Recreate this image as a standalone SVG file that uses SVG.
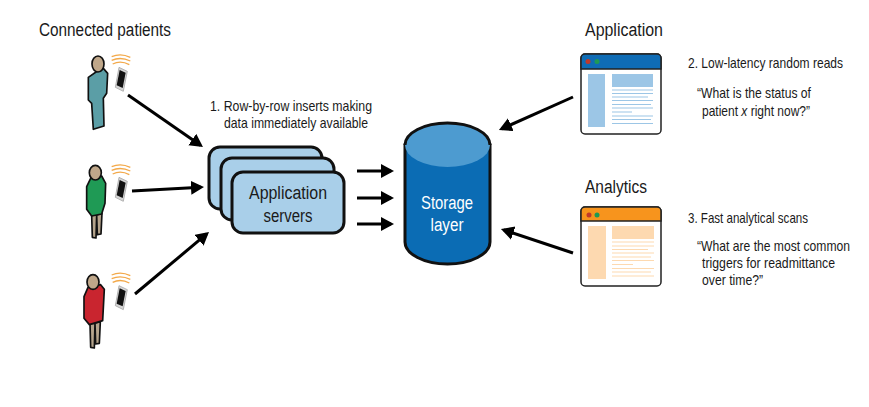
<svg xmlns="http://www.w3.org/2000/svg" width="869" height="407" viewBox="0 0 869 407">
<style>
text{font-family:"Liberation Sans",Arial,sans-serif;fill:#1a1a1a;stroke:none}
.h{font-size:19px}.s{font-size:14.500px}.m{font-size:19px;text-anchor:middle}
.conn{stroke:#000;stroke-width:3;fill:none;marker-end:url(#ah)}
.srv{fill:#a9cfe9;stroke:#111;stroke-width:3}
.ol{stroke:#111;stroke-width:5;stroke-linejoin:round}
.wave{fill:none;stroke:#f3a94a;stroke-width:4}
.frame{fill:#fff;stroke:#222;stroke-width:1.5}
.ln{stroke-width:1.2}
</style>
<defs>
<marker id="ah" markerUnits="userSpaceOnUse" markerWidth="16" markerHeight="16" refX="10" refY="7" orient="auto"><path d="M0 0L13 7L0 14Z" fill="#000"/></marker>
<g id="phone">
<path d="M177 82L202 94L190 154L166 142Z" fill="#d5d5d5" stroke="#999" stroke-width="2"/>
<path d="M179 90L197 98L188 144L170 136Z" fill="#111"/>
<path class="wave" d="M155 50Q182 38 211 52M155 61Q182 49 211 63M158 72Q182 60 208 74"/>
</g>
</defs>
<text class="h" transform="translate(39 36) scale(.8 1)" textLength="165" lengthAdjust="spacingAndGlyphs">Connected patients</text>
<g id="connectors">
<path class="conn" d="M128 95L200.500 145.300"/>
<path class="conn" d="M132 191L201 187.200"/>
<path class="conn" d="M135 294L206.700 233.900"/>
<path class="conn" d="M357 171L391 171"/>
<path class="conn" d="M357 198L391 198"/>
<path class="conn" d="M357 224L391 224"/>
<path class="conn" d="M573 97L501.700 128.800"/>
<path class="conn" d="M573 253L503.800 229.900"/>
</g>
<g id="patient-1" transform="translate(60 40) scale(.3333)">
<path class="ol" d="M85 112L108 96L130 85L143 100L140 160L130 175L132 258L100 268L95 190L85 180Z" fill="#5b9ea6"/>
<ellipse class="ol" cx="114" cy="72" rx="18" ry="24" fill="#bfa78a"/>
<use href="#phone"/>
</g>
<g id="patient-2" transform="translate(60 150) scale(.3333)">
<path class="ol" d="M95 195L97 262L108 264L110 195ZM110 195L112 254L123 252L126 190Z" fill="#b5a48c"/>
<path class="ol" d="M80 110L92 85L125 78L137 100L135 160L125 192L95 198L80 178Z" fill="#1f9a55"/>
<ellipse class="ol" cx="106" cy="68" rx="18" ry="22" fill="#bfa78a"/>
<use href="#phone"/>
</g>
<g id="patient-3" transform="translate(60 150) scale(.3333)">
<path class="ol" d="M90 520L92 592L103 594L105 520ZM105 520L107 582L118 580L121 515Z" fill="#b5a48c"/>
<path class="ol" d="M72 440L84 412L122 404L133 418L128 512L88 524L72 505Z" fill="#c9252f"/>
<ellipse class="ol" cx="99" cy="396" rx="18" ry="22" fill="#bfa78a"/>
<use href="#phone" transform="translate(0 325)"/>
</g>
<g id="note-1">
<text class="s" transform="translate(210 111) scale(.8 1)" textLength="202.500" lengthAdjust="spacingAndGlyphs">1. Row-by-row inserts making</text>
<text class="s" transform="translate(224 128) scale(.8 1)" textLength="180" lengthAdjust="spacingAndGlyphs">data immediately available</text>
</g>
<g id="application-servers">
<rect class="srv" x="209" y="147" width="113" height="62" rx="11"/>
<rect class="srv" x="221" y="158" width="113" height="62" rx="11"/>
<rect class="srv" x="232" y="172" width="112" height="61" rx="11"/>
<text class="m" transform="translate(288 199) scale(.8 1)" textLength="97.500" lengthAdjust="spacingAndGlyphs">Application</text>
<text class="m" transform="translate(288 222) scale(.8 1)" textLength="61.300" lengthAdjust="spacingAndGlyphs">servers</text>
</g>
<g id="storage-layer">
<path d="M405 145V242C405 254 424 264 447.500 264S490 254 490 242V145Z" fill="#0b6cb4" stroke="#111" stroke-width="3"/>
<ellipse cx="447.500" cy="145" rx="42.500" ry="22" fill="#4d9bd0" stroke="none"/>
<path d="M405 145C405 133 424 123 447.500 123S490 133 490 145" fill="none" stroke="#111" stroke-width="3"/>
<text class="m" transform="translate(447 209) scale(.8 1)" textLength="65" lengthAdjust="spacingAndGlyphs" style="fill:#fff">Storage</text>
<text class="m" transform="translate(447 231) scale(.8 1)" textLength="41.300" lengthAdjust="spacingAndGlyphs" style="fill:#fff">layer</text>
</g>
<g id="application-window">
<text class="h" transform="translate(585 36) scale(.8 1)" textLength="97.500" lengthAdjust="spacingAndGlyphs">Application</text>
<rect class="frame" x="581" y="54" width="80" height="80" rx="4"/>
<path d="M581 69V58a4 4 0 0 1 4-4H657a4 4 0 0 1 4 4V69Z" fill="#0f6cb5" stroke="#222" stroke-width="1.500"/>
<circle cx="588" cy="61.500" r="2.500" fill="#c0392b"/><circle cx="597" cy="61.500" r="2.500" fill="#1f9a55"/>
<rect x="588" y="74" width="17" height="53" fill="#9cc6e6"/><rect x="612" y="74" width="41" height="13" fill="#9cc6e6"/>
<g stroke="#9cc6e6" class="ln"><path d="M612 90H653M612 93.500H653M612 97H648M612 100.500H653M612 104.500H651M612 108H653M612 112H632M612 116H653M612 119.500H651M612 123.500H653"/></g>
</g>
<g id="note-2">
<text class="s" transform="translate(688 68) scale(.8 1)" textLength="193.800" lengthAdjust="spacingAndGlyphs">2. Low-latency random reads</text>
<text class="s" transform="translate(697 98) scale(.8 1)" textLength="142.500" lengthAdjust="spacingAndGlyphs">“What is the status of</text>
<text class="s" transform="translate(702 116) scale(.8 1)" textLength="135" lengthAdjust="spacingAndGlyphs">patient <tspan font-style="italic">x</tspan> right now?”</text>
</g>
<g id="analytics-window">
<text class="h" transform="translate(585 193) scale(.8 1)" textLength="77.500" lengthAdjust="spacingAndGlyphs">Analytics</text>
<rect class="frame" x="581" y="207" width="80" height="79" rx="4"/>
<path d="M581 221V211a4 4 0 0 1 4-4H657a4 4 0 0 1 4 4V221Z" fill="#f7941d" stroke="#222" stroke-width="1.500"/>
<circle cx="589" cy="215" r="2.500" fill="#c0392b"/><circle cx="597" cy="215" r="2.500" fill="#1f9a55"/>
<rect x="588" y="226" width="18" height="53" fill="#fdd9b0"/><rect x="612" y="226" width="42" height="13" fill="#fdd9b0"/>
<g stroke="#fdd9b0" class="ln"><path d="M612 242H654M612 246H654M612 249.500H648M612 253H654M612 257H651M612 260.500H654M612 264.500H633M612 268.500H654M612 272H651M612 276H654"/></g>
</g>
<g id="note-3">
<text class="s" transform="translate(688 223) scale(.8 1)" textLength="150" lengthAdjust="spacingAndGlyphs">3. Fast analytical scans</text>
<text class="s" transform="translate(697 251) scale(.8 1)" textLength="191.300" lengthAdjust="spacingAndGlyphs">“What are the most common</text>
<text class="s" transform="translate(702 268) scale(.8 1)" textLength="166.300" lengthAdjust="spacingAndGlyphs">triggers for readmittance</text>
<text class="s" transform="translate(702 285) scale(.8 1)" textLength="76.300" lengthAdjust="spacingAndGlyphs">over time?”</text>
</g>
</svg>
